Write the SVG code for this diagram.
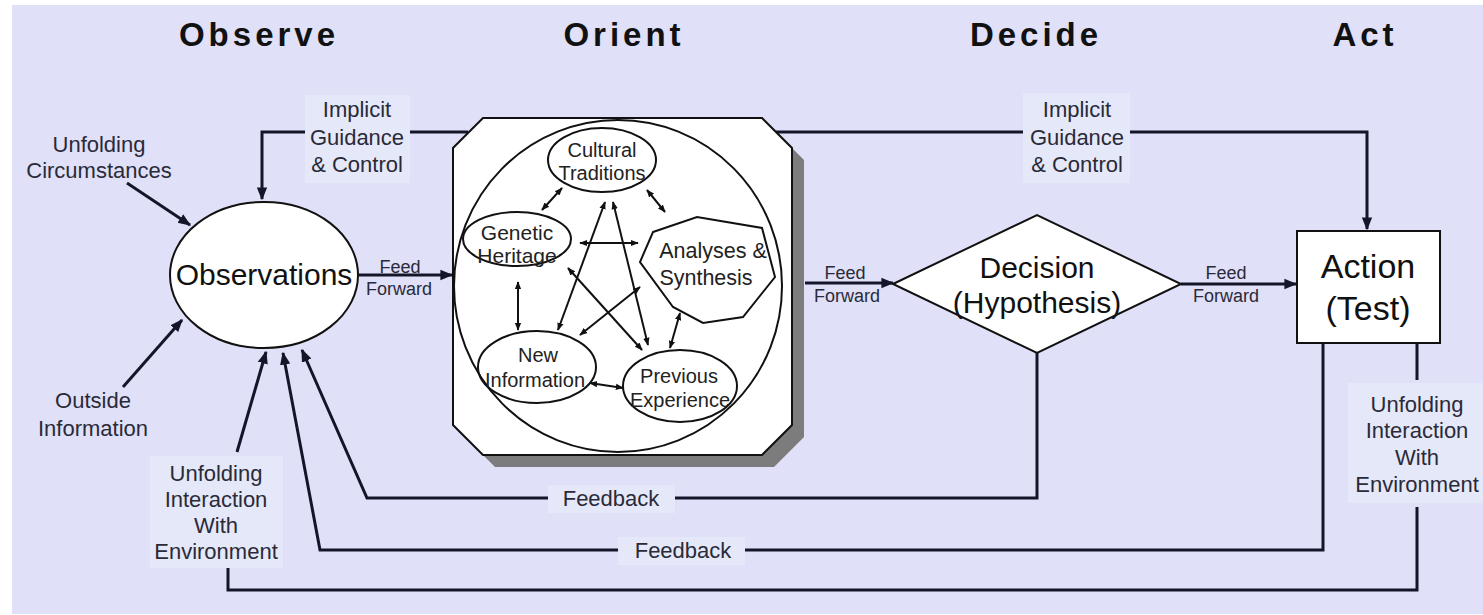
<svg xmlns="http://www.w3.org/2000/svg" width="1483" height="615" viewBox="0 0 1483 615">
<style>
text{font-family:"Liberation Sans",Arial,sans-serif;fill:#222230;text-anchor:middle}
.title{font-size:33px;font-weight:bold;letter-spacing:4px;fill:#111}
.lbl{font-size:22px;fill:#2a2a38}
.ff{font-size:18px;fill:#2a2a38}
.big{font-size:30px;fill:#111}
.inner{font-size:20px;fill:#222}
.conn{fill:none;stroke:#15152a;stroke-width:3}
.ic{fill:none;stroke:#111;stroke-width:2}
.shape{fill:#fff;stroke:#111;stroke-width:2}
.lb{fill:#E5E8F8}
</style>
<defs>
<marker id="ah" viewBox="0 0 10 10" refX="9" refY="5" markerWidth="4.3" markerHeight="4.3" markerUnits="strokeWidth" orient="auto"><path d="M0,1 L10,5 L0,9 z" fill="#15152a"/></marker>
<marker id="sa" viewBox="0 0 10 10" refX="9" refY="5" markerWidth="4" markerHeight="4" markerUnits="strokeWidth" orient="auto-start-reverse"><path d="M0,1 L10,5 L0,9 z" fill="#111"/></marker>
</defs>
<rect x="0" y="0" width="1483" height="615" fill="#fff"/>
<rect x="12" y="5" width="1471" height="609" fill="#E0E0F8"/>

<g id="titles">
<text class="title" x="259" y="46">Observe</text>
<text class="title" x="624" y="46">Orient</text>
<text class="title" x="1036" y="46">Decide</text>
<text class="title" x="1365" y="46">Act</text>
</g>

<g id="connectors">
<polyline class="conn" points="468,132 262,132 262,199" marker-end="url(#ah)"/>
<polyline class="conn" points="776,132 1367,132 1367,229" marker-end="url(#ah)"/>
<line class="conn" x1="127" y1="183" x2="190" y2="225" marker-end="url(#ah)"/>
<line class="conn" x1="123" y1="387" x2="182" y2="320" marker-end="url(#ah)"/>
<line class="conn" x1="358" y1="275" x2="452" y2="275" marker-end="url(#ah)"/>
<line class="conn" x1="805" y1="283" x2="893" y2="283" marker-end="url(#ah)"/>
<line class="conn" x1="1181" y1="284" x2="1296" y2="284" marker-end="url(#ah)"/>
<line class="conn" x1="237" y1="452" x2="266" y2="352" marker-end="url(#ah)"/>
<polyline class="conn" points="1323,343 1323,550 320,550 283,353" marker-end="url(#ah)"/>
<polyline class="conn" points="1037,353 1037,498 367,498 302,350" marker-end="url(#ah)"/>
<line class="conn" x1="1417" y1="343" x2="1417" y2="380"/>
<polyline class="conn" points="1417,507 1417,590 228,590 228,567"/>
</g>

<g id="label-backgrounds">
<rect class="lb" x="305" y="95" width="105" height="88"/>
<rect class="lb" x="1023" y="93" width="107" height="90"/>
<rect class="lb" x="150" y="456" width="133" height="112"/>
<rect class="lb" x="1348" y="383" width="135" height="120"/>
<rect class="lb" x="548" y="485" width="127" height="28"/>
<rect class="lb" x="618" y="537" width="127" height="28"/>
</g>

<g id="labels">
<text class="lbl" x="357" y="117">Implicit</text>
<text class="lbl" x="357" y="145">Guidance</text>
<text class="lbl" x="357" y="172">&amp; Control</text>
<text class="lbl" x="1077" y="117">Implicit</text>
<text class="lbl" x="1077" y="145">Guidance</text>
<text class="lbl" x="1077" y="172">&amp; Control</text>
<text class="lbl" x="99" y="152">Unfolding</text>
<text class="lbl" x="99" y="178">Circumstances</text>
<text class="lbl" x="93" y="408">Outside</text>
<text class="lbl" x="93" y="436">Information</text>
<text class="lbl" x="216" y="481">Unfolding</text>
<text class="lbl" x="216" y="507">Interaction</text>
<text class="lbl" x="216" y="533">With</text>
<text class="lbl" x="216" y="559">Environment</text>
<text class="lbl" x="1417" y="412">Unfolding</text>
<text class="lbl" x="1417" y="438">Interaction</text>
<text class="lbl" x="1417" y="465">With</text>
<text class="lbl" x="1417" y="492">Environment</text>
<text class="lbl" x="611" y="506">Feedback</text>
<text class="lbl" x="683" y="558">Feedback</text>
<text class="ff" x="400" y="273">Feed</text>
<text class="ff" x="399" y="295">Forward</text>
<text class="ff" x="845" y="279">Feed</text>
<text class="ff" x="847" y="302">Forward</text>
<text class="ff" x="1226" y="279">Feed</text>
<text class="ff" x="1226" y="302">Forward</text>
</g>

<g id="observations">
<ellipse class="shape" cx="264" cy="275" rx="94" ry="73"/>
<text class="big" x="264" y="285">Observations</text>
</g>

<g id="orient">
<polygon points="495,130 774,130 804,160 804,437 774,467 495,467 465,437 465,160" fill="#7c7c7c"/>
<polygon class="shape" points="483,118 762,118 792,148 792,425 762,455 483,455 453,425 453,148"/>
<ellipse class="ic" cx="618" cy="286" rx="164" ry="166"/>
</g>

<g id="orient-links">
<line class="ic" x1="562" y1="188" x2="542" y2="210" marker-start="url(#sa)" marker-end="url(#sa)"/>
<line class="ic" x1="647" y1="190" x2="665" y2="212" marker-start="url(#sa)" marker-end="url(#sa)"/>
<line class="ic" x1="580" y1="243" x2="638" y2="243" marker-start="url(#sa)" marker-end="url(#sa)"/>
<line class="ic" x1="518" y1="282" x2="518" y2="330" marker-start="url(#sa)" marker-end="url(#sa)"/>
<line class="ic" x1="590" y1="383" x2="623" y2="388" marker-start="url(#sa)" marker-end="url(#sa)"/>
<line class="ic" x1="680" y1="313" x2="670" y2="348" marker-start="url(#sa)" marker-end="url(#sa)"/>
<line class="ic" x1="605" y1="202" x2="558" y2="330" marker-start="url(#sa)" marker-end="url(#sa)"/>
<line class="ic" x1="613" y1="202" x2="648" y2="345" marker-start="url(#sa)" marker-end="url(#sa)"/>
<line class="ic" x1="568" y1="268" x2="642" y2="350" marker-start="url(#sa)" marker-end="url(#sa)"/>
<line class="ic" x1="640" y1="287" x2="580" y2="335" marker-start="url(#sa)" marker-end="url(#sa)"/>
</g>

<g id="cultural-traditions">
<ellipse class="ic" cx="602" cy="160" rx="54" ry="32"/>
<text class="inner" x="602" y="157">Cultural</text>
<text class="inner" x="602" y="180">Traditions</text>
</g>

<g id="genetic-heritage">
<ellipse class="ic" cx="517" cy="239" rx="54" ry="27"/>
<text class="inner" x="517" y="240" style="font-size:21px">Genetic</text>
<text class="inner" x="517" y="263" style="font-size:21px">Heritage</text>
</g>

<g id="analyses-synthesis">
<polygon class="ic" points="653,232 697,217 762,228 775,277 743,317 703,323 673,307 640,262"/>
<text class="inner" x="713" y="258" style="font-size:21.5px">Analyses &amp;</text>
<text class="inner" x="706" y="285" style="font-size:21.5px">Synthesis</text>
</g>

<g id="new-information">
<ellipse class="ic" cx="537" cy="367" rx="59" ry="36"/>
<text class="inner" x="538" y="362">New</text>
<text class="inner" x="535" y="387">Information</text>
</g>

<g id="previous-experience">
<ellipse class="ic" cx="680" cy="386" rx="57" ry="36"/>
<text class="inner" x="679" y="383">Previous</text>
<text class="inner" x="680" y="407">Experience</text>
</g>

<g id="decision">
<polygon class="shape" points="893,284 1037,215 1181,284 1037,353"/>
<text class="big" x="1037" y="278">Decision</text>
<text class="big" x="1037" y="313">(Hypothesis)</text>
</g>

<g id="action">
<rect class="shape" x="1297" y="231" width="143" height="112"/>
<text class="big" x="1368" y="278" style="font-size:34px">Action</text>
<text class="big" x="1368" y="320" style="font-size:34px">(Test)</text>
</g>
</svg>
